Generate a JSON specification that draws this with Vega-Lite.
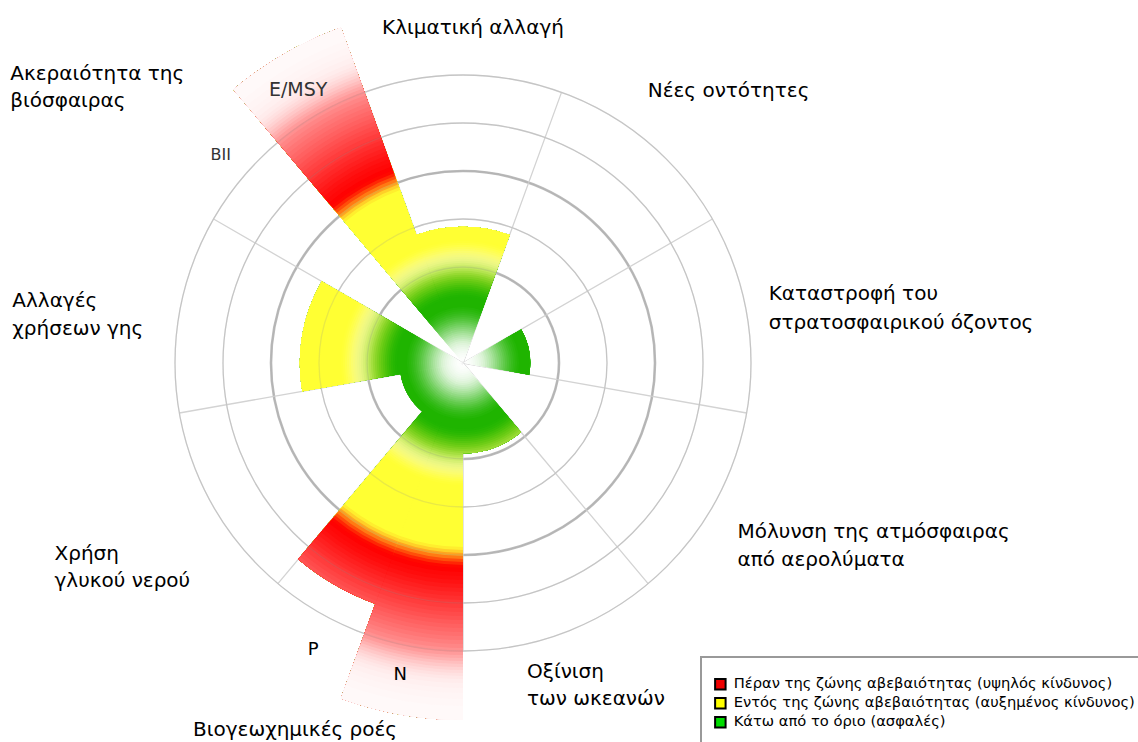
{
"$schema":"https://vega.github.io/schema/vega-lite/v6.json",
"width":926,"height":726,
"autosize":{"type":"none"},
"padding":{"left":0,"top":0,"right":212,"bottom":16},
"background":"white",
"config":{"view":{"stroke":null},"font":"DejaVu Sans","text":{"font":"DejaVu Sans"}},
"datasets":{
"bars":[
{"boundary":"Κλιματική αλλαγή","indicator":"CO2","start":-20,"end":20,"value":1.42},
{"boundary":"Καταστροφή του στρατοσφαιρικού όζοντος","indicator":"O3","start":60,"end":100,"value":0.70},
{"boundary":"Οξίνιση των ωκεανών","indicator":"Ω","start":140,"end":180,"value":0.94},
{"boundary":"Βιογεωχημικές ροές","indicator":"N","start":180,"end":200,"value":3.72},
{"boundary":"Βιογεωχημικές ροές","indicator":"P","start":200,"end":220,"value":2.67},
{"boundary":"Χρήση γλυκού νερού","indicator":"H2O","start":220,"end":260,"value":0.66},
{"boundary":"Αλλαγές χρήσεων γης","indicator":"forest","start":260,"end":300,"value":1.70},
{"boundary":"Ακεραιότητα της βιόσφαιρας","indicator":"E/MSY","start":320,"end":340,"value":3.72}
],
"rings":[{"r":1,"kind":"boundary"},{"r":1.5,"kind":"grid"},{"r":2,"kind":"boundary"},{"r":2.5,"kind":"grid"},{"r":3,"kind":"grid"}],
"spokes":[{"angle":20},{"angle":60},{"angle":100},{"angle":140},{"angle":180},{"angle":220},{"angle":260},{"angle":300},{"angle":340}],
"labels":[
{"id":"climate","label":"Κλιματική αλλαγή","angle":0},
{"id":"novel","label":"Νέες οντότητες","angle":40},
{"id":"ozone","label":"Καταστροφή του\nστρατοσφαιρικού όζοντος","angle":80},
{"id":"aerosol","label":"Μόλυνση της ατμόσφαιρας\nαπό αερολύματα","angle":120},
{"id":"ocean","label":"Οξίνιση\nτων ωκεανών","angle":160},
{"id":"biogeo","label":"Βιογεωχημικές ροές","angle":200},
{"id":"water","label":"Χρήση\nγλυκού νερού","angle":240},
{"id":"land","label":"Αλλαγές\nχρήσεων γης","angle":280},
{"id":"biosphere","label":"Ακεραιότητα της\nβιόσφαιρας","angle":320},
{"id":"emsy","label":"E/MSY","angle":330},
{"id":"bii","label":"BII","angle":310},
{"id":"n","label":"N","angle":190},
{"id":"p","label":"P","angle":210}
],
"zones":[
{"zone":"Πέραν της ζώνης αβεβαιότητας (υψηλός κίνδυνος)"},
{"zone":"Εντός της ζώνης αβεβαιότητας (αυξημένος κίνδυνος)"},
{"zone":"Κάτω από το όριο (ασφαλές)"}
]
},
"layer":[
{"data":{"name":"rings"},"transform":[{"filter":"datum.kind=='grid'"}],"mark":{"type":"arc","filled":false,"stroke":"#d3d3d3","strokeWidth":1.3},
 "encoding":{"theta":{"datum":0,"type":"quantitative","scale":{"type":"linear","domain":[0,360],"range":[0,6.283185307179586],"nice":false,"zero":false}},"theta2":{"datum":360},"radius":{"field":"r","type":"quantitative","stack":null,"scale":{"type":"linear","domain":[0,4],"range":[0,384],"nice":false,"zero":true}}}},
{"data":{"name":"rings"},"transform":[{"filter":"datum.kind=='boundary'"}],"mark":{"type":"arc","filled":false,"stroke":"#bdbdbd","strokeWidth":2.6},
 "encoding":{"theta":{"datum":0,"type":"quantitative"},"theta2":{"datum":360},"radius":{"field":"r","type":"quantitative","stack":null}}},
{"data":{"name":"spokes"},"mark":{"type":"arc","filled":false,"stroke":"#d3d3d3","strokeWidth":1.3},
 "encoding":{"theta":{"field":"angle","type":"quantitative","stack":null},"theta2":{"field":"angle"},"radius":{"datum":3,"type":"quantitative"}}},
{"data":{"name":"bars"},
 "encoding":{"theta":{"field":"start","type":"quantitative","stack":null},"theta2":{"field":"end"},"radius":{"field":"value","type":"quantitative","stack":null}},
 "layer":[
{"mark":{"type":"arc","color":"#ffffff"},"encoding":{"radius2":{"datum":0}}},
{"transform":[{"filter":"datum.value>0.0208"}],"mark":{"type":"arc","color":"#fdfefd"},"encoding":{"radius2":{"datum":0.0208}}},
{"transform":[{"filter":"datum.value>0.0417"}],"mark":{"type":"arc","color":"#fcfefb"},"encoding":{"radius2":{"datum":0.0417}}},
{"transform":[{"filter":"datum.value>0.0625"}],"mark":{"type":"arc","color":"#f9fdf9"},"encoding":{"radius2":{"datum":0.0625}}},
{"transform":[{"filter":"datum.value>0.0833"}],"mark":{"type":"arc","color":"#f7fcf6"},"encoding":{"radius2":{"datum":0.0833}}},
{"transform":[{"filter":"datum.value>0.1042"}],"mark":{"type":"arc","color":"#f3fbf2"},"encoding":{"radius2":{"datum":0.1042}}},
{"transform":[{"filter":"datum.value>0.125"}],"mark":{"type":"arc","color":"#effaed"},"encoding":{"radius2":{"datum":0.125}}},
{"transform":[{"filter":"datum.value>0.1458"}],"mark":{"type":"arc","color":"#ebf8e8"},"encoding":{"radius2":{"datum":0.1458}}},
{"transform":[{"filter":"datum.value>0.1667"}],"mark":{"type":"arc","color":"#e5f6e2"},"encoding":{"radius2":{"datum":0.1667}}},
{"transform":[{"filter":"datum.value>0.1875"}],"mark":{"type":"arc","color":"#dff4da"},"encoding":{"radius2":{"datum":0.1875}}},
{"transform":[{"filter":"datum.value>0.2083"}],"mark":{"type":"arc","color":"#d7f2d1"},"encoding":{"radius2":{"datum":0.2083}}},
{"transform":[{"filter":"datum.value>0.2292"}],"mark":{"type":"arc","color":"#cceec5"},"encoding":{"radius2":{"datum":0.2292}}},
{"transform":[{"filter":"datum.value>0.25"}],"mark":{"type":"arc","color":"#c1eab9"},"encoding":{"radius2":{"datum":0.25}}},
{"transform":[{"filter":"datum.value>0.2708"}],"mark":{"type":"arc","color":"#b6e7ac"},"encoding":{"radius2":{"datum":0.2708}}},
{"transform":[{"filter":"datum.value>0.2917"}],"mark":{"type":"arc","color":"#abe39f"},"encoding":{"radius2":{"datum":0.2917}}},
{"transform":[{"filter":"datum.value>0.3125"}],"mark":{"type":"arc","color":"#9edf91"},"encoding":{"radius2":{"datum":0.3125}}},
{"transform":[{"filter":"datum.value>0.3333"}],"mark":{"type":"arc","color":"#92da83"},"encoding":{"radius2":{"datum":0.3333}}},
{"transform":[{"filter":"datum.value>0.3542"}],"mark":{"type":"arc","color":"#86d675"},"encoding":{"radius2":{"datum":0.3542}}},
{"transform":[{"filter":"datum.value>0.375"}],"mark":{"type":"arc","color":"#79d267"},"encoding":{"radius2":{"datum":0.375}}},
{"transform":[{"filter":"datum.value>0.3958"}],"mark":{"type":"arc","color":"#6dce59"},"encoding":{"radius2":{"datum":0.3958}}},
{"transform":[{"filter":"datum.value>0.4167"}],"mark":{"type":"arc","color":"#61ca4b"},"encoding":{"radius2":{"datum":0.4167}}},
{"transform":[{"filter":"datum.value>0.4375"}],"mark":{"type":"arc","color":"#56c63e"},"encoding":{"radius2":{"datum":0.4375}}},
{"transform":[{"filter":"datum.value>0.4583"}],"mark":{"type":"arc","color":"#4bc332"},"encoding":{"radius2":{"datum":0.4583}}},
{"transform":[{"filter":"datum.value>0.4792"}],"mark":{"type":"arc","color":"#41bf27"},"encoding":{"radius2":{"datum":0.4792}}},
{"transform":[{"filter":"datum.value>0.5"}],"mark":{"type":"arc","color":"#38bc1d"},"encoding":{"radius2":{"datum":0.5}}},
{"transform":[{"filter":"datum.value>0.5208"}],"mark":{"type":"arc","color":"#30ba14"},"encoding":{"radius2":{"datum":0.5208}}},
{"transform":[{"filter":"datum.value>0.5417"}],"mark":{"type":"arc","color":"#2ab80c"},"encoding":{"radius2":{"datum":0.5417}}},
{"transform":[{"filter":"datum.value>0.5625"}],"mark":{"type":"arc","color":"#24b606"},"encoding":{"radius2":{"datum":0.5625}}},
{"transform":[{"filter":"datum.value>0.5833"}],"mark":{"type":"arc","color":"#1fb400"},"encoding":{"radius2":{"datum":0.5833}}},
{"transform":[{"filter":"datum.value>0.6875"}],"mark":{"type":"arc","color":"#21b501"},"encoding":{"radius2":{"datum":0.6875}}},
{"transform":[{"filter":"datum.value>0.7083"}],"mark":{"type":"arc","color":"#26b702"},"encoding":{"radius2":{"datum":0.7083}}},
{"transform":[{"filter":"datum.value>0.7292"}],"mark":{"type":"arc","color":"#2cb903"},"encoding":{"radius2":{"datum":0.7292}}},
{"transform":[{"filter":"datum.value>0.75"}],"mark":{"type":"arc","color":"#35bb05"},"encoding":{"radius2":{"datum":0.75}}},
{"transform":[{"filter":"datum.value>0.7708"}],"mark":{"type":"arc","color":"#3fbf07"},"encoding":{"radius2":{"datum":0.7708}}},
{"transform":[{"filter":"datum.value>0.7917"}],"mark":{"type":"arc","color":"#4ac20a"},"encoding":{"radius2":{"datum":0.7917}}},
{"transform":[{"filter":"datum.value>0.8125"}],"mark":{"type":"arc","color":"#56c60e"},"encoding":{"radius2":{"datum":0.8125}}},
{"transform":[{"filter":"datum.value>0.8333"}],"mark":{"type":"arc","color":"#62c912"},"encoding":{"radius2":{"datum":0.8333}}},
{"transform":[{"filter":"datum.value>0.8542"}],"mark":{"type":"arc","color":"#6ecd17"},"encoding":{"radius2":{"datum":0.8542}}},
{"transform":[{"filter":"datum.value>0.875"}],"mark":{"type":"arc","color":"#7cd11f"},"encoding":{"radius2":{"datum":0.875}}},
{"transform":[{"filter":"datum.value>0.8958"}],"mark":{"type":"arc","color":"#89d528"},"encoding":{"radius2":{"datum":0.8958}}},
{"transform":[{"filter":"datum.value>0.9167"}],"mark":{"type":"arc","color":"#97da32"},"encoding":{"radius2":{"datum":0.9167}}},
{"transform":[{"filter":"datum.value>0.9375"}],"mark":{"type":"arc","color":"#a5df40"},"encoding":{"radius2":{"datum":0.9375}}},
{"transform":[{"filter":"datum.value>0.9583"}],"mark":{"type":"arc","color":"#b3e44f"},"encoding":{"radius2":{"datum":0.9583}}},
{"transform":[{"filter":"datum.value>0.9792"}],"mark":{"type":"arc","color":"#c0e85d"},"encoding":{"radius2":{"datum":0.9792}}},
{"transform":[{"filter":"datum.value>1.0"}],"mark":{"type":"arc","color":"#ccec6a"},"encoding":{"radius2":{"datum":1.0}}},
{"transform":[{"filter":"datum.value>1.0208"}],"mark":{"type":"arc","color":"#d7f074"},"encoding":{"radius2":{"datum":1.0208}}},
{"transform":[{"filter":"datum.value>1.0417"}],"mark":{"type":"arc","color":"#e1f37d"},"encoding":{"radius2":{"datum":1.0417}}},
{"transform":[{"filter":"datum.value>1.0625"}],"mark":{"type":"arc","color":"#e9f682"},"encoding":{"radius2":{"datum":1.0625}}},
{"transform":[{"filter":"datum.value>1.0833"}],"mark":{"type":"arc","color":"#eff882"},"encoding":{"radius2":{"datum":1.0833}}},
{"transform":[{"filter":"datum.value>1.1042"}],"mark":{"type":"arc","color":"#f4fa7e"},"encoding":{"radius2":{"datum":1.1042}}},
{"transform":[{"filter":"datum.value>1.125"}],"mark":{"type":"arc","color":"#f8fb77"},"encoding":{"radius2":{"datum":1.125}}},
{"transform":[{"filter":"datum.value>1.1458"}],"mark":{"type":"arc","color":"#fbfd6d"},"encoding":{"radius2":{"datum":1.1458}}},
{"transform":[{"filter":"datum.value>1.1667"}],"mark":{"type":"arc","color":"#fdfd60"},"encoding":{"radius2":{"datum":1.1667}}},
{"transform":[{"filter":"datum.value>1.1875"}],"mark":{"type":"arc","color":"#fefe54"},"encoding":{"radius2":{"datum":1.1875}}},
{"transform":[{"filter":"datum.value>1.2083"}],"mark":{"type":"arc","color":"#ffff48"},"encoding":{"radius2":{"datum":1.2083}}},
{"transform":[{"filter":"datum.value>1.2292"}],"mark":{"type":"arc","color":"#ffff3e"},"encoding":{"radius2":{"datum":1.2292}}},
{"transform":[{"filter":"datum.value>1.25"}],"mark":{"type":"arc","color":"#ffff37"},"encoding":{"radius2":{"datum":1.25}}},
{"transform":[{"filter":"datum.value>1.2708"}],"mark":{"type":"arc","color":"#ffff33"},"encoding":{"radius2":{"datum":1.2708}}},
{"transform":[{"filter":"datum.value>1.9167"}],"mark":{"type":"arc","color":"#ffee2e"},"encoding":{"radius2":{"datum":1.9167}}},
{"transform":[{"filter":"datum.value>1.9479"}],"mark":{"type":"arc","color":"#ffcf28"},"encoding":{"radius2":{"datum":1.9479}}},
{"transform":[{"filter":"datum.value>1.9792"}],"mark":{"type":"arc","color":"#ffa620"},"encoding":{"radius2":{"datum":1.9792}}},
{"transform":[{"filter":"datum.value>2.0104"}],"mark":{"type":"arc","color":"#ff7a14"},"encoding":{"radius2":{"datum":2.0104}}},
{"transform":[{"filter":"datum.value>2.0417"}],"mark":{"type":"arc","color":"#ff4e0a"},"encoding":{"radius2":{"datum":2.0417}}},
{"transform":[{"filter":"datum.value>2.0729"}],"mark":{"type":"arc","color":"#ff2604"},"encoding":{"radius2":{"datum":2.0729}}},
{"transform":[{"filter":"datum.value>2.1042"}],"mark":{"type":"arc","color":"#ff0800"},"encoding":{"radius2":{"datum":2.1042}}},
{"transform":[{"filter":"datum.value>2.1354"}],"mark":{"type":"arc","color":"#ff0202"},"encoding":{"radius2":{"datum":2.1354}}},
{"transform":[{"filter":"datum.value>2.1771"}],"mark":{"type":"arc","color":"#ff0808"},"encoding":{"radius2":{"datum":2.1771}}},
{"transform":[{"filter":"datum.value>2.2188"}],"mark":{"type":"arc","color":"#ff0c0c"},"encoding":{"radius2":{"datum":2.2188}}},
{"transform":[{"filter":"datum.value>2.2604"}],"mark":{"type":"arc","color":"#ff1212"},"encoding":{"radius2":{"datum":2.2604}}},
{"transform":[{"filter":"datum.value>2.3021"}],"mark":{"type":"arc","color":"#ff1919"},"encoding":{"radius2":{"datum":2.3021}}},
{"transform":[{"filter":"datum.value>2.3438"}],"mark":{"type":"arc","color":"#ff2020"},"encoding":{"radius2":{"datum":2.3438}}},
{"transform":[{"filter":"datum.value>2.3854"}],"mark":{"type":"arc","color":"#ff2727"},"encoding":{"radius2":{"datum":2.3854}}},
{"transform":[{"filter":"datum.value>2.4271"}],"mark":{"type":"arc","color":"#ff2e2e"},"encoding":{"radius2":{"datum":2.4271}}},
{"transform":[{"filter":"datum.value>2.4688"}],"mark":{"type":"arc","color":"#ff3636"},"encoding":{"radius2":{"datum":2.4688}}},
{"transform":[{"filter":"datum.value>2.5104"}],"mark":{"type":"arc","color":"#ff3d3d"},"encoding":{"radius2":{"datum":2.5104}}},
{"transform":[{"filter":"datum.value>2.5521"}],"mark":{"type":"arc","color":"#ff4444"},"encoding":{"radius2":{"datum":2.5521}}},
{"transform":[{"filter":"datum.value>2.5938"}],"mark":{"type":"arc","color":"#ff4b4b"},"encoding":{"radius2":{"datum":2.5938}}},
{"transform":[{"filter":"datum.value>2.6354"}],"mark":{"type":"arc","color":"#ff5252"},"encoding":{"radius2":{"datum":2.6354}}},
{"transform":[{"filter":"datum.value>2.6771"}],"mark":{"type":"arc","color":"#ff5a5a"},"encoding":{"radius2":{"datum":2.6771}}},
{"transform":[{"filter":"datum.value>2.7188"}],"mark":{"type":"arc","color":"#ff6161"},"encoding":{"radius2":{"datum":2.7188}}},
{"transform":[{"filter":"datum.value>2.7604"}],"mark":{"type":"arc","color":"#ff6868"},"encoding":{"radius2":{"datum":2.7604}}},
{"transform":[{"filter":"datum.value>2.8021"}],"mark":{"type":"arc","color":"#ff6f6f"},"encoding":{"radius2":{"datum":2.8021}}},
{"transform":[{"filter":"datum.value>2.8438"}],"mark":{"type":"arc","color":"#ff7676"},"encoding":{"radius2":{"datum":2.8438}}},
{"transform":[{"filter":"datum.value>2.8854"}],"mark":{"type":"arc","color":"#ff7e7e"},"encoding":{"radius2":{"datum":2.8854}}},
{"transform":[{"filter":"datum.value>2.9271"}],"mark":{"type":"arc","color":"#ff8686"},"encoding":{"radius2":{"datum":2.9271}}},
{"transform":[{"filter":"datum.value>2.9688"}],"mark":{"type":"arc","color":"#ff9090"},"encoding":{"radius2":{"datum":2.9688}}},
{"transform":[{"filter":"datum.value>3.0104"}],"mark":{"type":"arc","color":"#ff9b9b"},"encoding":{"radius2":{"datum":3.0104}}},
{"transform":[{"filter":"datum.value>3.0417"}],"mark":{"type":"arc","color":"#ffa7a7"},"encoding":{"radius2":{"datum":3.0417}}},
{"transform":[{"filter":"datum.value>3.0729"}],"mark":{"type":"arc","color":"#ffb2b2"},"encoding":{"radius2":{"datum":3.0729}}},
{"transform":[{"filter":"datum.value>3.1042"}],"mark":{"type":"arc","color":"#ffbebe"},"encoding":{"radius2":{"datum":3.1042}}},
{"transform":[{"filter":"datum.value>3.1354"}],"mark":{"type":"arc","color":"#ffc8c8"},"encoding":{"radius2":{"datum":3.1354}}},
{"transform":[{"filter":"datum.value>3.1667"}],"mark":{"type":"arc","color":"#ffd2d2"},"encoding":{"radius2":{"datum":3.1667}}},
{"transform":[{"filter":"datum.value>3.1979"}],"mark":{"type":"arc","color":"#ffdada"},"encoding":{"radius2":{"datum":3.1979}}},
{"transform":[{"filter":"datum.value>3.2292"}],"mark":{"type":"arc","color":"#ffe1e1"},"encoding":{"radius2":{"datum":3.2292}}},
{"transform":[{"filter":"datum.value>3.2604"}],"mark":{"type":"arc","color":"#ffe7e7"},"encoding":{"radius2":{"datum":3.2604}}},
{"transform":[{"filter":"datum.value>3.2917"}],"mark":{"type":"arc","color":"#ffecec"},"encoding":{"radius2":{"datum":3.2917}}},
{"transform":[{"filter":"datum.value>3.3333"}],"mark":{"type":"arc","color":"#fff0f0"},"encoding":{"radius2":{"datum":3.3333}}},
{"transform":[{"filter":"datum.value>3.3854"}],"mark":{"type":"arc","color":"#fff3f3"},"encoding":{"radius2":{"datum":3.3854}}},
{"transform":[{"filter":"datum.value>3.4375"}],"mark":{"type":"arc","color":"#fff5f5"},"encoding":{"radius2":{"datum":3.4375}}},
{"transform":[{"filter":"datum.value>3.5"}],"mark":{"type":"arc","color":"#fff7f7"},"encoding":{"radius2":{"datum":3.5}}},
{"transform":[{"filter":"datum.value>3.5729"}],"mark":{"type":"arc","color":"#fff9f9"},"encoding":{"radius2":{"datum":3.5729}}}
 ]},
{"data":{"name":"rings"},"mark":{"type":"arc","filled":false,"stroke":"#909090","strokeOpacity":0.2,"strokeWidth":1.3},
 "encoding":{"theta":{"datum":0,"type":"quantitative"},"theta2":{"datum":360},"radius":{"field":"r","type":"quantitative","stack":null}}},
{"data":{"name":"labels"},"transform":[{"filter":"datum.id=='climate'"}],"mark":{"type":"text","align":"center","baseline":"alphabetic","fontSize":20,"dx":10,"dy":-7,"color":"black"},
 "encoding":{"theta":{"field":"angle","type":"quantitative","stack":null},"radius":{"datum":3.35,"type":"quantitative"},"text":{"field":"label"}}},
{"data":{"name":"labels"},"transform":[{"filter":"datum.id=='novel'"}],"mark":{"type":"text","align":"left","baseline":"alphabetic","fontSize":20,"dx":-22,"dy":-20,"color":"black"},
 "encoding":{"theta":{"field":"angle","type":"quantitative","stack":null},"radius":{"datum":3.35,"type":"quantitative"},"text":{"field":"label"}}},
{"data":{"name":"labels"},"transform":[{"filter":"datum.id=='ozone'"}],"mark":{"type":"text","align":"left","baseline":"alphabetic","fontSize":20,"dx":-11,"dy":-7,"lineBreak":"\n","lineHeight":29,"color":"black"},
 "encoding":{"theta":{"field":"angle","type":"quantitative","stack":null},"radius":{"datum":3.35,"type":"quantitative"},"text":{"field":"label"}}},
{"data":{"name":"labels"},"transform":[{"filter":"datum.id=='aerosol'"}],"mark":{"type":"text","align":"left","baseline":"alphabetic","fontSize":20,"dx":-4,"dy":14,"lineBreak":"\n","lineHeight":28,"color":"black"},
 "encoding":{"theta":{"field":"angle","type":"quantitative","stack":null},"radius":{"datum":3.35,"type":"quantitative"},"text":{"field":"label"}}},
{"data":{"name":"labels"},"transform":[{"filter":"datum.id=='ocean'"}],"mark":{"type":"text","align":"left","baseline":"alphabetic","fontSize":20,"dx":-46,"dy":13,"lineBreak":"\n","lineHeight":27,"color":"black"},
 "encoding":{"theta":{"field":"angle","type":"quantitative","stack":null},"radius":{"datum":3.35,"type":"quantitative"},"text":{"field":"label"}}},
{"data":{"name":"labels"},"transform":[{"filter":"datum.id=='biogeo'"}],"mark":{"type":"text","align":"center","baseline":"alphabetic","fontSize":20,"dx":-58,"dy":71,"color":"black"},
 "encoding":{"theta":{"field":"angle","type":"quantitative","stack":null},"radius":{"datum":3.35,"type":"quantitative"},"text":{"field":"label"}}},
{"data":{"name":"labels"},"transform":[{"filter":"datum.id=='water'"}],"mark":{"type":"text","align":"left","baseline":"alphabetic","fontSize":20,"dx":-130,"dy":36,"lineBreak":"\n","lineHeight":27,"color":"black"},
 "encoding":{"theta":{"field":"angle","type":"quantitative","stack":null},"radius":{"datum":3.35,"type":"quantitative"},"text":{"field":"label"}}},
{"data":{"name":"labels"},"transform":[{"filter":"datum.id=='land'"}],"mark":{"type":"text","align":"left","baseline":"alphabetic","fontSize":20,"dx":-134,"dy":0,"lineBreak":"\n","lineHeight":28,"color":"black"},
 "encoding":{"theta":{"field":"angle","type":"quantitative","stack":null},"radius":{"datum":3.35,"type":"quantitative"},"text":{"field":"label"}}},
{"data":{"name":"labels"},"transform":[{"filter":"datum.id=='biosphere'"}],"mark":{"type":"text","align":"left","baseline":"alphabetic","fontSize":20,"dx":-246,"dy":-37,"lineBreak":"\n","lineHeight":27,"color":"black"},
 "encoding":{"theta":{"field":"angle","type":"quantitative","stack":null},"radius":{"datum":3.35,"type":"quantitative"},"text":{"field":"label"}}},
{"data":{"name":"labels"},"transform":[{"filter":"datum.id=='emsy'"}],"mark":{"type":"text","align":"center","baseline":"alphabetic","fontSize":19,"dx":-4,"dy":12,"color":"#333333"},
 "encoding":{"theta":{"field":"angle","type":"quantitative","stack":null},"radius":{"datum":3.35,"type":"quantitative"},"text":{"field":"label"}}},
{"data":{"name":"labels"},"transform":[{"filter":"datum.id=='bii'"}],"mark":{"type":"text","align":"center","baseline":"alphabetic","fontSize":16,"dx":4,"dy":4,"color":"#333333"},
 "encoding":{"theta":{"field":"angle","type":"quantitative","stack":null},"radius":{"datum":3.35,"type":"quantitative"},"text":{"field":"label"}}},
{"data":{"name":"labels"},"transform":[{"filter":"datum.id=='n'"}],"mark":{"type":"text","align":"center","baseline":"alphabetic","fontSize":18,"dx":-7,"dy":0,"color":"black"},
 "encoding":{"theta":{"field":"angle","type":"quantitative","stack":null},"radius":{"datum":3.35,"type":"quantitative"},"text":{"field":"label"}}},
{"data":{"name":"labels"},"transform":[{"filter":"datum.id=='p'"}],"mark":{"type":"text","align":"center","baseline":"alphabetic","fontSize":18,"dx":11,"dy":13,"color":"black"},
 "encoding":{"theta":{"field":"angle","type":"quantitative","stack":null},"radius":{"datum":3.35,"type":"quantitative"},"text":{"field":"label"}}},
{"data":{"name":"zones"},"mark":{"type":"arc"},
 "encoding":{"radius":{"datum":0,"type":"quantitative"},
  "color":{"field":"zone","type":"nominal","scale":{"domain":["Πέραν της ζώνης αβεβαιότητας (υψηλός κίνδυνος)","Εντός της ζώνης αβεβαιότητας (αυξημένος κίνδυνος)","Κάτω από το όριο (ασφαλές)"],"range":["#ee0000","#ffff00","#00dd00"]},
   "legend":{"title":" ","titleFontSize":8,"titlePadding":0,"orient":"none","legendX":701,"legendY":657,"symbolType":"square","symbolSize":110,"symbolStrokeColor":"black","symbolStrokeWidth":2,"labelFontSize":14.7,"labelFont":"DejaVu Sans","labelColor":"black","labelLimit":600,"rowPadding":0,"padding":12,"strokeColor":"#999999","labelOffset":6,
    "encode":{"legend":{"update":{"strokeWidth":{"value":2}}},"symbols":{"update":{"stroke":{"value":"black"},"strokeWidth":{"value":2},"opacity":{"value":1}}}}}}}}
]
}
